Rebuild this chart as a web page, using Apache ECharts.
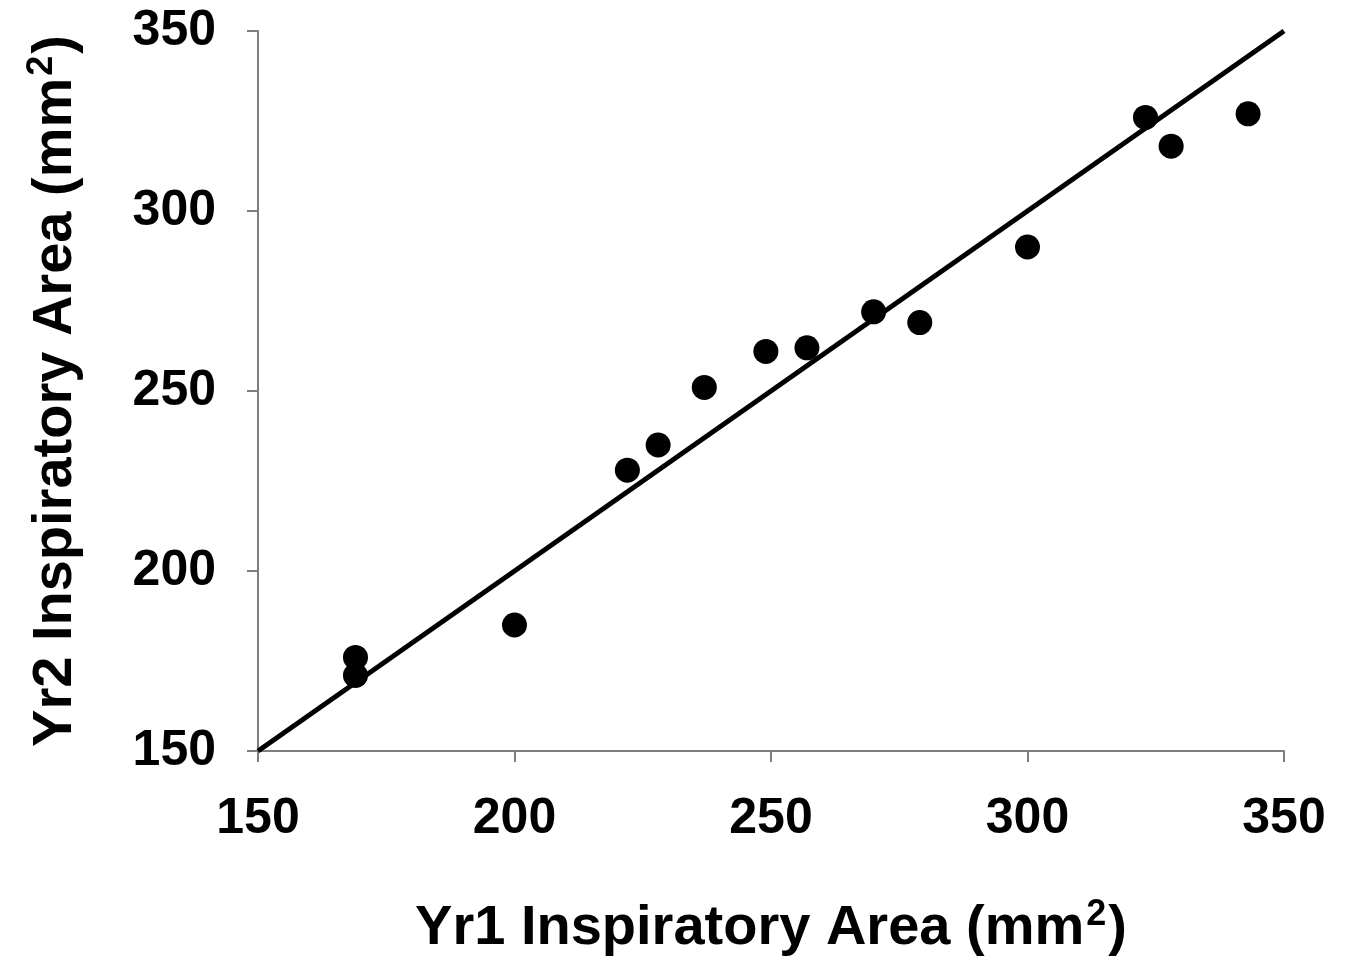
<!DOCTYPE html>
<html>
<head>
<meta charset="utf-8">
<script src="https://cdn.jsdelivr.net/npm/echarts@6/dist/echarts.min.js"></script>
<style>
html,body{margin:0;padding:0;background:#fff;}
#chart{width:1346px;height:963px;}
</style>
</head>
<body>
<div id="chart"></div>
<script>
// Scatter data: Yr1 vs Yr2 inspiratory area (mm^2)
const yr1 = [169, 169, 200, 222, 228, 237, 249, 257, 270, 279, 300, 323, 328, 343];
const yr2 = [176, 171, 185, 228, 235, 251, 261, 262, 272, 269, 290, 326, 318, 327];
// Line of identity
const lineX = [150, 350];
const lineY = [150, 350];
// Axis ticks
const xTicks = [150, 200, 250, 300, 350];
const yTicks = [150, 200, 250, 300, 350];

const FONT = "'Liberation Sans', Arial, sans-serif";
const chart = echarts.init(document.getElementById('chart'), null, {renderer: 'canvas'});

const nameRich = {
  a: {fontSize: 56, fontWeight: 'bold', fontFamily: FONT, color: '#000', lineHeight: 64},
  s: {fontSize: 36, fontWeight: 'bold', fontFamily: FONT, color: '#000', lineHeight: 36, verticalAlign: 'top', padding: [0, 2, 12, 2]}
};

chart.setOption({
  backgroundColor: '#fff',
  animation: false,
  grid: {left: 258, right: 62, top: 31, bottom: 212, containLabel: false},
  xAxis: {
    type: 'value',
    min: xTicks[0], max: xTicks[xTicks.length - 1], interval: 50,
    splitLine: {show: false},
    axisLine: {show: true, lineStyle: {color: '#7f7f7f', width: 2}},
    axisTick: {show: true, length: 11, lineStyle: {color: '#7f7f7f', width: 2}},
    axisLabel: {fontSize: 50, fontWeight: 'bold', fontFamily: FONT, color: '#000', margin: 43},
    name: '{a|Yr1 Inspiratory Area (mm}{s|2}{a|)}',
    nameLocation: 'middle',
    nameGap: 146,
    nameTextStyle: {rich: nameRich}
  },
  yAxis: {
    type: 'value',
    min: yTicks[0], max: yTicks[yTicks.length - 1], interval: 50,
    splitLine: {show: false},
    axisLine: {show: true, lineStyle: {color: '#7f7f7f', width: 2}},
    axisTick: {show: true, length: 11, lineStyle: {color: '#7f7f7f', width: 2}},
    axisLabel: {fontSize: 50, fontWeight: 'bold', fontFamily: FONT, color: '#000', margin: 42},
    name: '{a|Yr2 Inspiratory Area (mm}{s|2}{a|)}',
    nameLocation: 'middle',
    nameRotate: 90,
    nameGap: 170,
    nameTextStyle: {rich: nameRich}
  },
  series: [
    {
      type: 'line',
      data: lineX.map((x, i) => [x, lineY[i]]),
      symbol: 'none',
      lineStyle: {color: '#000', width: 5},
      z: 2
    },
    {
      type: 'scatter',
      data: yr1.map((x, i) => [x, yr2[i]]),
      symbol: 'circle',
      symbolSize: 25,
      itemStyle: {color: '#000', opacity: 1},
      z: 3
    }
  ]
});
</script>
</body>
</html>
